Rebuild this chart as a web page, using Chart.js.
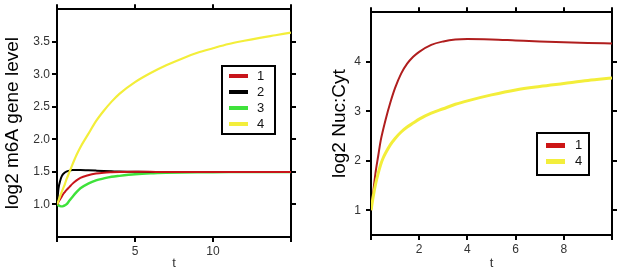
<!DOCTYPE html>
<html><head><meta charset="utf-8">
<script src="https://cdn.jsdelivr.net/npm/chart.js@4.4.0/dist/chart.umd.min.js"></script>
<style>
html,body{margin:0;padding:0;background:#fff;}
#wrap{position:relative;width:617px;height:272px;overflow:hidden;background:#fff;}
.c{position:absolute;top:0;}
.legend{position:absolute;border:2px solid #000;background:#fff;font-family:"Liberation Sans",Arial,sans-serif;font-size:13px;color:#111;box-sizing:border-box;opacity:0.995;will-change:transform;}
.row{position:absolute;left:0;right:0;height:16px;}
.sw{position:absolute;top:6px;height:4px;width:19px;}
.lb{position:absolute;top:0;line-height:16px;}
</style></head><body>
<div id="wrap">
<canvas id="c1" class="c" style="left:0" width="310" height="272"></canvas>
<canvas id="c2" class="c" style="left:310px" width="307" height="272"></canvas>
<div id="leg1" class="legend" style="left:221px;top:65px;width:55px;height:70px"></div>
<div id="leg2" class="legend" style="left:536px;top:132px;width:54px;height:44px"></div>
</div>
<script>
// ---- Left panel data ----
const tLeft   = [0, 0.1, 0.2, 0.3, 0.4, 0.5, 0.6, 0.8, 1, 1.25, 1.5, 2, 2.5, 3, 3.5, 4, 5, 6, 7, 8, 9, 10, 11, 12, 13, 14, 15];
const left1   = [1.0, 1.04, 1.08, 1.12, 1.16, 1.19, 1.22, 1.27, 1.32, 1.37, 1.41, 1.45, 1.475, 1.488, 1.495, 1.5, 1.502, 1.501, 1.5, 1.5, 1.5, 1.5, 1.5, 1.5, 1.5, 1.5, 1.5];
const left2   = [1.0, 1.25, 1.36, 1.43, 1.47, 1.49, 1.505, 1.52, 1.528, 1.53, 1.53, 1.525, 1.52, 1.515, 1.51, 1.505, 1.502, 1.5, 1.5, 1.5, 1.5, 1.5, 1.5, 1.5, 1.5, 1.5, 1.5];
const left3   = [1.0, 0.985, 0.975, 0.97, 0.975, 0.985, 1.0, 1.06, 1.12, 1.19, 1.25, 1.32, 1.37, 1.4, 1.425, 1.44, 1.465, 1.48, 1.488, 1.492, 1.494, 1.495, 1.496, 1.497, 1.497, 1.497, 1.497];
const left4   = [1.0, 1.06, 1.13, 1.19, 1.25, 1.31, 1.38, 1.5, 1.62, 1.76, 1.88, 2.08, 2.28, 2.44, 2.58, 2.7, 2.88, 3.02, 3.14, 3.24, 3.33, 3.4, 3.465, 3.515, 3.56, 3.6, 3.64];
const leftLabels = ["1", "2", "3", "4"];
const leftYTicks = [1.0, 1.5, 2.0, 2.5, 3.0, 3.5];
const leftXTicks = [0, 5, 10, 15];

// ---- Right panel data ----
const tRight  = [0, 0.1, 0.2, 0.3, 0.4, 0.5, 0.6, 0.8, 1, 1.25, 1.5, 1.75, 2, 2.5, 3, 3.5, 4, 5, 6, 7, 8, 9, 10];
const right1  = [1.0, 1.4, 1.8, 2.1, 2.4, 2.62, 2.82, 3.17, 3.47, 3.76, 3.96, 4.1, 4.2, 4.34, 4.41, 4.45, 4.46, 4.45, 4.43, 4.41, 4.395, 4.38, 4.37];
const right4  = [1.0, 1.3, 1.55, 1.75, 1.92, 2.05, 2.15, 2.32, 2.45, 2.58, 2.68, 2.76, 2.84, 2.96, 3.05, 3.14, 3.21, 3.33, 3.43, 3.5, 3.56, 3.62, 3.67];
const rightLabels = ["1", "4"];
const rightYTicks = [1, 2, 3, 4];
const rightXTicks = [0, 2, 4, 6, 8, 10];

const RED = '#c8141a', RED2 = '#b01e1e', BLACK = '#000000', GREEN = '#3ee23a', YELLOW = '#f3ee3a';
const FONT = '"Liberation Sans", Arial, sans-serif';

function pts(t, v) { return t.map((x, i) => ({x: x, y: v[i]})); }
function ds(label, t, v, color, w) {
  return {label, data: pts(t, v), borderColor: color, backgroundColor: color, borderWidth: w,
    pointRadius: 0, cubicInterpolationMode: 'monotone', fill: false};
}
function setTicks(arr) { return s => { s.ticks = arr.map(v => ({value: v})); }; }
function fixSize(prop, n) { return s => { s[prop] = n; }; }

function makeScales(o) {
  const grid = {drawOnChartArea: false, drawTicks: true, tickLength: 5, color: '#000', lineWidth: 2};
  const border = {display: true, color: '#000', width: 2};
  return {
    x: {type: 'linear', position: 'bottom', min: o.xmin, max: o.xmax,
      afterBuildTicks: setTicks(o.xticks), afterFit: fixSize('height', o.bottomH),
      grid, border,
      ticks: {color: '#333', font: {family: FONT, size: 12}, padding: 2, maxRotation: 0,
        callback: v => (v === o.xmin || v === o.xmax) ? '' : String(v)},
      title: {display: true, text: 't', color: '#333', font: {family: FONT, size: 13}, padding: {top: 0, bottom: 1}}
    },
    y: {type: 'linear', position: 'left', min: o.ymin, max: o.ymax,
      afterBuildTicks: setTicks(o.yticks), afterFit: fixSize('width', o.leftW),
      grid, border,
      ticks: {color: '#333', font: {family: FONT, size: 12}, padding: o.ypad, callback: o.yfmt},
      title: {display: true, text: o.ytitle, color: '#000', font: {family: FONT, size: 19}, padding: {top: o.titlePad, bottom: 0}}
    },
    x2: {type: 'linear', position: 'top', min: o.xmin, max: o.xmax,
      afterBuildTicks: setTicks(o.xticks), afterFit: fixSize('height', o.topH),
      grid, border, ticks: {display: false}},
    y2: {type: 'linear', position: 'right', min: o.ymin, max: o.ymax,
      afterBuildTicks: setTicks(o.yticks), afterFit: fixSize('width', o.rightW),
      grid, border, ticks: {display: false}}
  };
}

const common = {responsive: false, animation: false, events: [],
  layout: {padding: 0},
  plugins: {legend: {display: false}, tooltip: {enabled: false}}};

new Chart(document.getElementById('c1'), {
  type: 'line',
  data: {datasets: [
    ds(leftLabels[3], tLeft, left4, YELLOW, 2.2),
    ds(leftLabels[0], tLeft, left1, RED, 2),
    ds(leftLabels[1], tLeft, left2, BLACK, 2),
    ds(leftLabels[2], tLeft, left3, GREEN, 2.4)
  ]},
  options: Object.assign({}, common, {scales: makeScales({
    xmin: 0, xmax: 15, xticks: leftXTicks, ymin: 0.5, ymax: 4.0, yticks: leftYTicks,
    bottomH: 35, topH: 5, leftW: 57, rightW: 19, ypad: 2, titlePad: 1,
    yfmt: v => v.toFixed(1), ytitle: 'log2 m6A gene level'})})
});

new Chart(document.getElementById('c2'), {
  type: 'line',
  data: {datasets: [
    ds(rightLabels[1], tRight, right4, YELLOW, 3),
    ds(rightLabels[0], tRight, right1, RED2, 2)
  ]},
  options: Object.assign({}, common, {scales: makeScales({
    xmin: 0, xmax: 10, xticks: rightXTicks, ymin: 0.5, ymax: 5.0, yticks: rightYTicks,
    bottomH: 37, topH: 7, leftW: 61, rightW: 5, ypad: 5, titlePad: 18,
    yfmt: v => String(v), ytitle: 'log2 Nuc:Cyt'})})
});

// ---- legends (HTML) ----
function buildLegend(el, labels, colors, rowTops, swLeft, txtLeft, swH) {
  labels.forEach((lab, i) => {
    const r = document.createElement('div'); r.className = 'row'; r.style.top = rowTops[i] + 'px';
    const s = document.createElement('div'); s.className = 'sw'; s.style.left = swLeft + 'px';
    s.style.background = colors[i]; s.style.height = swH + 'px'; s.style.top = (8 - swH / 2) + 'px';
    const t = document.createElement('div'); t.className = 'lb'; t.style.left = txtLeft + 'px'; t.textContent = lab;
    r.appendChild(s); r.appendChild(t); el.appendChild(r);
  });
}
buildLegend(document.getElementById('leg1'), leftLabels, [RED, BLACK, GREEN, YELLOW], [1, 17, 33, 49], 6, 34, 4);
buildLegend(document.getElementById('leg2'), rightLabels, ['#cc1414', YELLOW], [3, 19], 8, 37, 5);
</script>
</body></html>
